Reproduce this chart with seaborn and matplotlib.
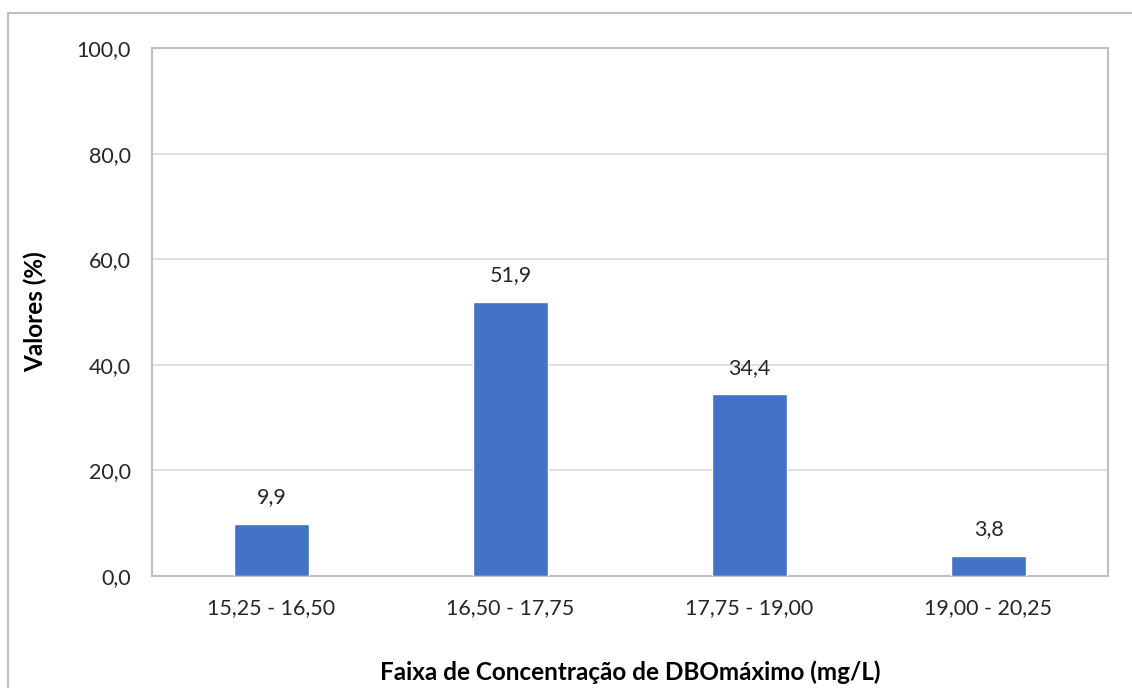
import matplotlib
matplotlib.use("Agg")
import matplotlib.pyplot as plt
import seaborn as sns
import pandas as pd
from matplotlib.ticker import FuncFormatter, MultipleLocator
from matplotlib.patches import Rectangle

categories = ["15,25 - 16,50", "16,50 - 17,75", "17,75 - 19,00", "19,00 - 20,25"]
values = [9.9, 51.9, 34.4, 3.8]

sns.set_theme(style="white")
plt.rcParams['font.family'] = ['Lato', 'DejaVu Sans']

df = pd.DataFrame({"cat": categories, "val": values})

fig = plt.figure(figsize=(11.32, 6.88), dpi=100)
ax = fig.add_axes([152/1132, 1-576/688, (1108-152)/1132, (576-48)/688])

sns.barplot(data=df, x="cat", y="val", color="#4472C4", width=0.31, saturation=1, ax=ax, zorder=3)

ax.set_ylim(0, 100)
ax.yaxis.set_major_locator(MultipleLocator(20))
ax.yaxis.set_major_formatter(FuncFormatter(lambda v, p: f"{v:.1f}".replace(".", ",")))
ax.grid(axis="y", color="#d9d9d9", linewidth=1.2, zorder=0)
ax.set_axisbelow(True)
for s in ax.spines.values():
    s.set_color("#bfbfbf")
    s.set_linewidth(1.5)
ax.tick_params(axis="both", length=0, labelsize=15.5, colors="#262626")
ax.tick_params(axis="y", pad=15)
ax.tick_params(axis="x", pad=16)

for i, v in enumerate(values):
    ax.annotate(f"{v:.1f}".replace(".", ","), (i, v), xytext=(0, 12), textcoords="offset points",
                ha="center", va="bottom", fontsize=15.5, color="#262626")

ax.set_xlabel("Faixa de Concentração de DBOmáximo (mg/L)", fontsize=17.5, fontweight="bold",
              color="#000000", labelpad=0, va="center")
ax.set_ylabel("Valores (%)", fontsize=17.5, fontweight="bold", color="#000000", labelpad=0, va="center")
ax.xaxis.set_label_coords(0.5, -(672-576)/528, transform=ax.transAxes)
ax.yaxis.set_label_coords(-(152-35)/956, 0.5, transform=ax.transAxes)

fig.patches.append(Rectangle((8/1132, -0.2), 1.2, 1.2 - 13/688, transform=fig.transFigure,
                             fill=False, edgecolor="#bfbfbf", linewidth=1.5, clip_on=False))

fig.savefig("out.png", dpi=100)
